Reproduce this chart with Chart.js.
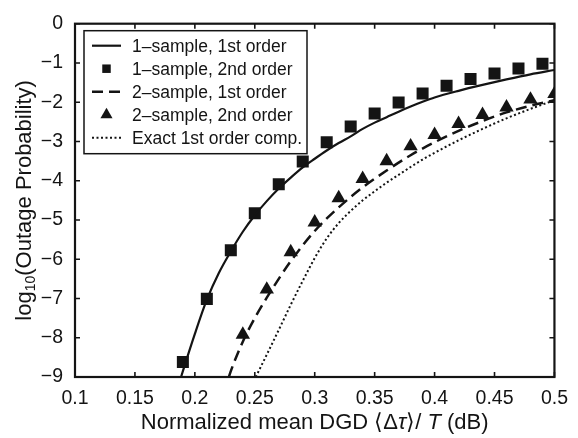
<!DOCTYPE html>
<html lang="en">
<head>
<meta charset="UTF-8">
<title>Outage probability vs mean DGD</title>
<script src="https://cdn.jsdelivr.net/npm/chart.js"></script>
<style>
  body { margin: 0; background: #fff; }
</style>
</head>
<body>
<canvas id="outageChart" width="578" height="438"></canvas>
<script>
// 1-sample, 1st order (analytic curve)
const oneFirstX = [0.1885, 0.19, 0.20, 0.21, 0.22, 0.23, 0.24, 0.25, 0.26, 0.27, 0.28, 0.29, 0.30, 0.31, 0.32, 0.33, 0.34, 0.35, 0.36, 0.37, 0.38, 0.39, 0.40, 0.42, 0.44, 0.46, 0.48, 0.50];
const oneFirstY = [-9, -8.85, -7.9, -7.03, -6.35, -5.8, -5.3, -4.88, -4.52, -4.2, -3.92, -3.66, -3.44, -3.23, -3.04, -2.87, -2.68, -2.52, -2.38, -2.24, -2.11, -1.99, -1.88, -1.71, -1.56, -1.42, -1.29, -1.18];

// 1-sample, 2nd order (simulated points)
const oneSecondX = [0.19, 0.21, 0.23, 0.25, 0.27, 0.29, 0.31, 0.33, 0.35, 0.37, 0.39, 0.41, 0.43, 0.45, 0.47, 0.49];
const oneSecondY = [-8.62, -7.01, -5.77, -4.83, -4.09, -3.51, -3.02, -2.62, -2.29, -2.01, -1.78, -1.58, -1.41, -1.27, -1.14, -1.02];

// 2-sample, 1st order (analytic curve)
const twoFirstX = [0.2284, 0.23, 0.24, 0.25, 0.26, 0.28, 0.30, 0.32, 0.34, 0.36, 0.38, 0.40, 0.42, 0.44, 0.46, 0.48, 0.50];
const twoFirstY = [-9, -8.85, -8.1, -7.5, -6.98, -6.05, -5.28, -4.68, -4.17, -3.74, -3.35, -3.02, -2.73, -2.48, -2.26, -2.09, -1.95];

// 2-sample, 2nd order (simulated points)
const twoSecondX = [0.24, 0.26, 0.28, 0.30, 0.32, 0.34, 0.36, 0.38, 0.40, 0.42, 0.44, 0.46, 0.48, 0.50];
const twoSecondY = [-7.92, -6.77, -5.82, -5.06, -4.44, -3.95, -3.5, -3.12, -2.83, -2.55, -2.32, -2.13, -1.93, -1.79];

// exact 1st order compensation
const exactX = [0.2508, 0.26, 0.27, 0.28, 0.29, 0.30, 0.31, 0.32, 0.33, 0.34, 0.35, 0.36, 0.37, 0.38, 0.39, 0.40, 0.42, 0.44, 0.46, 0.48, 0.50];
const exactY = [-9, -8.43, -7.8, -7.16, -6.55, -5.97, -5.47, -5.08, -4.77, -4.5, -4.27, -4.05, -3.85, -3.65, -3.46, -3.29, -2.97, -2.68, -2.41, -2.17, -1.95];

const seriesNames = ['1\u2013sample, 1st order', '1\u2013sample, 2nd order', '2\u2013sample, 1st order', '2\u2013sample, 2nd order', 'Exact 1st order comp.'];

const xTicks = { min: 0.1, max: 0.5, step: 0.05 };
const yTicks = { min: -9, max: 0, step: 1 };

const FONT = '"Liberation Sans", Arial, Helvetica, sans-serif';
const INK = '#141414';

function pts(xs, ys) {
    return xs.map((x, i) => ({ x: x, y: ys[i] }));
}

// white background, frame with inward ticks on all four sides
const framePlugin = {
    id: 'frame',
    beforeDraw(chart) {
        const ctx = chart.ctx;
        ctx.save();
        ctx.fillStyle = '#fff';
        ctx.fillRect(0, 0, chart.width, chart.height);
        ctx.restore();
    },
    afterDatasetsDraw(chart) {
        const { ctx, chartArea: a, scales } = chart;
        const len = 5;
        ctx.save();
        ctx.strokeStyle = INK;
        ctx.lineWidth = 1.6;
        ctx.beginPath();
        scales.x.ticks.forEach(t => {
            const px = scales.x.getPixelForValue(t.value);
            ctx.moveTo(px, a.bottom); ctx.lineTo(px, a.bottom - len);
            ctx.moveTo(px, a.top); ctx.lineTo(px, a.top + len);
        });
        scales.y.ticks.forEach(t => {
            const py = scales.y.getPixelForValue(t.value);
            ctx.moveTo(a.left, py); ctx.lineTo(a.left + len, py);
            ctx.moveTo(a.right, py); ctx.lineTo(a.right - len, py);
        });
        ctx.stroke();
        ctx.lineWidth = 2.2;
        ctx.strokeRect(a.left, a.top, a.right - a.left, a.bottom - a.top);
        ctx.restore();
    }
};

// legend box drawn inside the plot, upper left
const boxLegend = {
    id: 'boxLegend',
    afterDatasetsDraw(chart) {
        const { ctx, chartArea: a } = chart;
        const left = a.left + 9, top = a.top + 7, w = 223, h = 123;
        const rowH = 23;
        ctx.save();
        ctx.fillStyle = '#fff';
        ctx.fillRect(left, top, w, h);
        ctx.strokeStyle = INK;
        ctx.lineWidth = 1.5;
        ctx.strokeRect(left, top, w, h);
        ctx.font = '17.5px ' + FONT;
        ctx.textBaseline = 'middle';
        chart.data.datasets.forEach((ds, i) => {
            const y = top + 15 + i * rowH;
            const x0 = left + 8, x1 = left + 37;
            if (ds.showLine === false) {
                ctx.fillStyle = INK;
                Chart.helpers.drawPoint(ctx, {
                    pointStyle: ds.pointStyle,
                    radius: ds.pointStyle === 'rect' ? 6 : 7,
                    rotation: 0,
                    borderWidth: 0
                }, (x0 + x1) / 2, y);
            } else {
                ctx.strokeStyle = INK;
                ctx.lineWidth = ds.borderWidth;
                ctx.setLineDash(ds.borderDash || []);
                ctx.beginPath();
                ctx.moveTo(x0, y);
                ctx.lineTo(x1, y);
                ctx.stroke();
                ctx.setLineDash([]);
            }
            ctx.fillStyle = INK;
            ctx.fillText(ds.label, left + 48, y + 1);
        });
        ctx.restore();
    }
};

// axis titles: subscript in the y title, italic symbols in the x title
const axisTitles = {
    id: 'axisTitles',
    afterDraw(chart) {
        const { ctx, chartArea: a } = chart;
        ctx.save();
        ctx.fillStyle = INK;
        ctx.textBaseline = 'middle';

        // x title
        const parts = [
            ['Normalized mean DGD \u27e8\u0394', ''],
            ['\u03c4', 'italic '],
            ['\u27e9/ ', ''],
            ['T', 'italic '],
            [' (dB)', '']
        ];
        let total = 0;
        parts.forEach(p => { ctx.font = p[1] + '22px ' + FONT; total += ctx.measureText(p[0]).width; });
        let x = (a.left + a.right) / 2 - total / 2;
        const ty = 423;
        ctx.textAlign = 'left';
        parts.forEach(p => {
            ctx.font = p[1] + '22px ' + FONT;
            ctx.fillText(p[0], x, ty);
            x += ctx.measureText(p[0]).width;
        });

        // y title, rotated
        ctx.translate(25, (a.top + a.bottom) / 2);
        ctx.rotate(-Math.PI / 2);
        const big = '22px ' + FONT, small = '14px ' + FONT;
        ctx.font = big;
        const w1 = ctx.measureText('log').width;
        const w3 = ctx.measureText('(Outage Probability)').width;
        ctx.font = small;
        const w2 = ctx.measureText('10').width;
        let cx = -(w1 + w2 + w3) / 2;
        ctx.font = big;
        ctx.fillText('log', cx, 0);
        cx += w1;
        ctx.font = small;
        ctx.fillText('10', cx, 6);
        cx += w2;
        ctx.font = big;
        ctx.fillText('(Outage Probability)', cx, 0);
        ctx.restore();
    }
};

new Chart(document.getElementById('outageChart'), {
    type: 'scatter',
    data: {
        datasets: [
            {
                label: seriesNames[0],
                data: pts(oneFirstX, oneFirstY),
                showLine: true,
                borderColor: INK,
                borderWidth: 2.2,
                pointRadius: 0,
                cubicInterpolationMode: 'monotone'
            },
            {
                label: seriesNames[1],
                data: pts(oneSecondX, oneSecondY),
                showLine: false,
                pointStyle: 'rect',
                pointRadius: 8.5,
                backgroundColor: INK,
                borderWidth: 0
            },
            {
                label: seriesNames[2],
                data: pts(twoFirstX, twoFirstY),
                showLine: true,
                borderColor: INK,
                borderWidth: 2.5,
                borderDash: [11, 6],
                pointRadius: 0,
                cubicInterpolationMode: 'monotone'
            },
            {
                label: seriesNames[3],
                data: pts(twoSecondX, twoSecondY),
                showLine: false,
                pointStyle: 'triangle',
                pointRadius: 8.3,
                backgroundColor: INK,
                borderWidth: 0
            },
            {
                label: seriesNames[4],
                data: pts(exactX, exactY),
                showLine: true,
                borderColor: INK,
                borderWidth: 2,
                borderDash: [2, 2.5],
                pointRadius: 0,
                cubicInterpolationMode: 'monotone'
            }
        ]
    },
    options: {
        responsive: false,
        devicePixelRatio: 1,
        animation: false,
        events: [],
        layout: { padding: { top: 13, right: 16, left: 0, bottom: 0 } },
        plugins: {
            legend: { display: false },
            tooltip: { enabled: false }
        },
        scales: {
            x: {
                type: 'linear',
                min: xTicks.min,
                max: xTicks.max,
                grid: { display: false, drawTicks: false },
                border: { display: false },
                ticks: {
                    stepSize: xTicks.step,
                    padding: 10,
                    color: INK,
                    font: { family: FONT, size: 19.5 },
                    maxRotation: 0,
                    callback: v => String(parseFloat(v.toFixed(2)))
                },
                afterFit: s => { s.height = 61; }
            },
            y: {
                type: 'linear',
                min: yTicks.min,
                max: yTicks.max,
                grid: { display: false, drawTicks: false },
                border: { display: false },
                ticks: {
                    stepSize: yTicks.step,
                    padding: 12,
                    color: INK,
                    font: { family: FONT, size: 19.5 },
                    callback: v => (v < 0 ? '\u2212' + Math.abs(v) : String(v))
                },
                afterFit: s => { s.width = 75; }
            }
        }
    },
    plugins: [framePlugin, boxLegend, axisTitles]
});
</script>
</body>
</html>
